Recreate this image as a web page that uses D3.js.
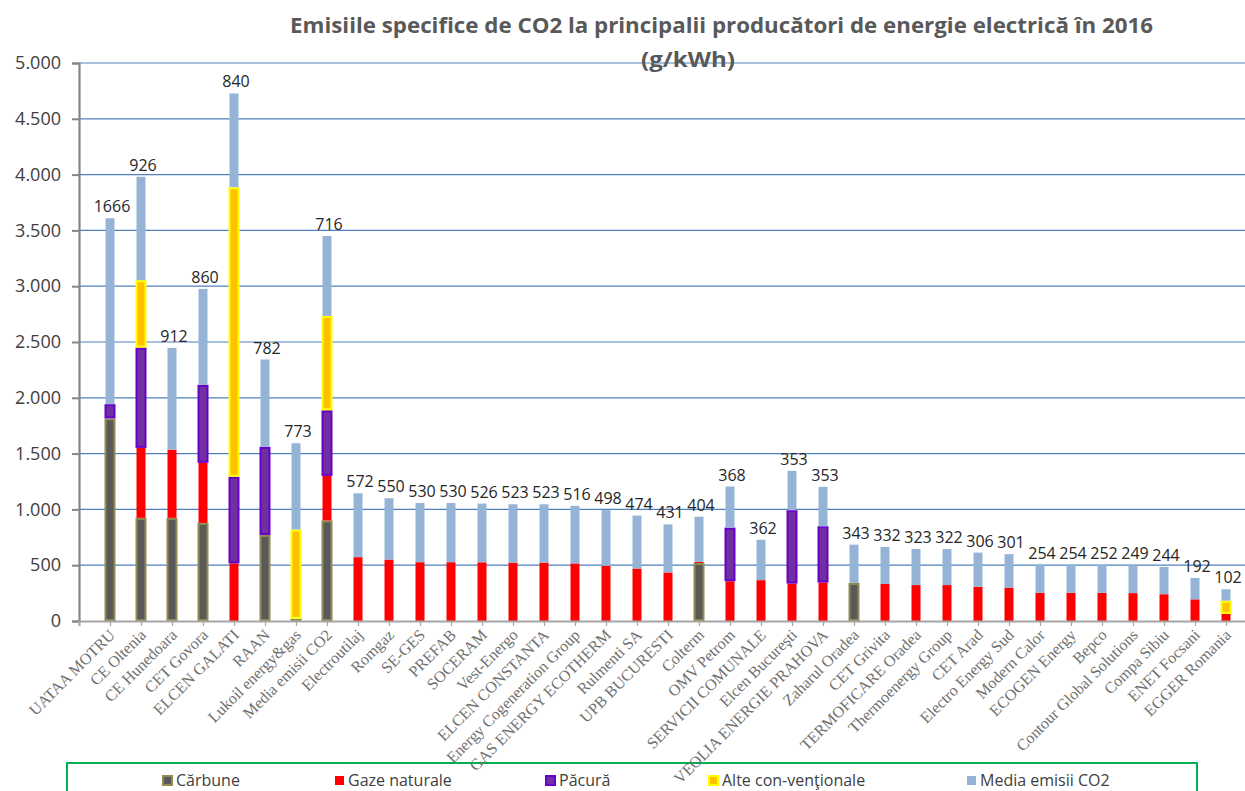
<!DOCTYPE html>
<html>
<head>
<meta charset="utf-8">
<script src="https://cdn.jsdelivr.net/npm/d3@7"></script>
<style>
  html, body { margin: 0; padding: 0; background: #ffffff; }
  svg { display: block; }
</style>
</head>
<body>
<svg id="chart" width="1245" height="791"></svg>
<script>
const categories = ["UATAA MOTRU","CE Oltenia","CE Hunedoara","CET Govora","ELCEN GALATI","RAAN","Lukoil energy&gas","Media emisii CO2","Electroutilaj","Romgaz","SE-GES","PREFAB","SOCERAM","Vest-Energo","ELCEN CONSTANTA","Energy Cogeneration Group","GAS ENERGY ECOTHERM","Rulmenti SA","UPB BUCURESTI","Colterm","OMV Petrom","SERVICII COMUNALE","Elcen Bucureşti","VEOLIA ENERGIE PRAHOVA","Zaharul Oradea","CET Grivita","TERMOFICARE Oradea","Thermoenergy Group","CET Arad","Electro Energy Sud","Modern Calor","ECOGEN Energy","Bepco","Contour Global Solutions","Compa Sibiu","ENET Focsani","EGGER Romania"];
const carbune = [1816,924,924,879,0,771,20,901,0,0,0,0,0,0,0,0,0,0,0,520,0,0,0,0,341,0,0,0,0,0,0,0,0,0,0,0,0];
const gaze    = [0,627,611,538,516,0,0,399,572,550,527,527,526,523,523,516,495,470,435,10,356,366,335,344,0,332,322,322,307,298,252,252,252,250,240,194,63];
const pacura  = [127,899,0,699,777,790,0,588,0,0,0,0,0,0,0,0,0,0,0,0,481,0,658,505,0,0,0,0,0,0,0,0,0,0,0,0,0];
const alte    = [0,604,0,0,2594,0,800,846,0,0,0,0,0,0,0,0,0,0,0,0,0,0,0,0,0,0,0,0,0,0,0,0,0,0,0,0,119];
const media   = [1666,926,912,860,840,782,773,716,572,550,530,530,526,523,523,516,498,474,431,404,368,362,353,353,343,332,323,322,306,301,254,254,252,249,244,192,102];
const yTickValues = [0,500,1000,1500,2000,2500,3000,3500,4000,4500,5000];
const seriesNames = ["Cărbune","Gaze naturale","Păcură","Alte con-venţionale","Media emisii CO2"];
const titleLines = ["Emisiile specifice de CO2 la principalii  producători de energie electrică în 2016","(g/kWh)"];

const keys = ["carbune","gaze","pacura","alte","media"];
const styles = {
  carbune: {fill:"#595959", stroke:"#948a54", sw:2},
  gaze:    {fill:"#ff0000", stroke:"none", sw:0},
  pacura:  {fill:"#7030a0", stroke:"#6600cc", sw:2},
  alte:    {fill:"#ffc000", stroke:"#ffff00", sw:2},
  media:   {fill:"#95b3d7", stroke:"none", sw:0}
};
const table = categories.map((c,i)=>({cat:c, idx:i, carbune:carbune[i], gaze:gaze[i], pacura:pacura[i], alte:alte[i], media:media[i]}));

const svg = d3.select("#chart");
const x0 = 79, step = 31;
const x = d3.scaleLinear().domain([0, categories.length + 1]).range([x0, x0 + step*(categories.length + 1)]);
const y = d3.scaleLinear().domain([0, 5000]).range([621, 63]);
const fmt = d3.formatLocale({decimal:",", thousands:".", grouping:[3], currency:["",""]}).format(",");

// gridlines
svg.append("g").selectAll("line").data(yTickValues.filter(v=>v>0)).join("line")
  .attr("x1", x0).attr("x2", 1245).attr("y1", d=>y(d)).attr("y2", d=>y(d))
  .attr("stroke", "#4f81bd").attr("stroke-width", 1.2);

// title
svg.append("text").attr("x", 721.5).attr("y", 33).attr("text-anchor","middle")
  .attr("font-family","Open Sans").attr("font-weight","bold").attr("font-size",21)
  .attr("fill","#595959").attr("textLength",863).attr("lengthAdjust","spacingAndGlyphs")
  .text(titleLines[0]);
svg.append("text").attr("x", 688).attr("y", 67).attr("text-anchor","middle")
  .attr("font-family","Open Sans").attr("font-weight","bold").attr("font-size",21)
  .attr("fill","#595959").attr("textLength",94).attr("lengthAdjust","spacingAndGlyphs")
  .text(titleLines[1]);

// legend
const lg = svg.append("g");
lg.append("rect").attr("x",67).attr("y",763).attr("width",1130).attr("height",40)
  .attr("fill","white").attr("stroke","#00b050").attr("stroke-width",2);
const legendX = [162, 334, 545, 708, 966];
seriesNames.forEach((n,i)=>{
  const st = styles[keys[i]];
  lg.append("rect").attr("x", legendX[i] + 1).attr("y", 776).attr("width", 9).attr("height", 9)
    .attr("fill", st.fill).attr("stroke", st.stroke).attr("stroke-width", st.sw);
  lg.append("text").attr("x", legendX[i] + 14).attr("y", 786)
    .attr("font-family","Open Sans").attr("font-size",16).attr("fill","#404040").text(n);
});

// bars
const stack = d3.stack().keys(keys)(table);
const bw = 9;
const bars = svg.append("g");
stack.forEach(layer=>{
  const st = styles[layer.key];
  bars.append("g").selectAll("rect").data(layer.filter(d=>d[1]-d[0]>0)).join("rect")
    .attr("x", d=>x(d.data.idx+1) - bw/2)
    .attr("width", bw)
    .attr("y", d=>y(d[1]) + (st.sw? st.sw/2 : 0))
    .attr("height", d=>Math.max(0, y(d[0]) - y(d[1]) - (st.sw? st.sw : 0)))
    .attr("fill", st.fill).attr("stroke", st.stroke).attr("stroke-width", st.sw);
});

// axes
const yAxis = svg.append("g").attr("transform",`translate(${x0},0)`)
  .call(d3.axisLeft(y).tickValues(yTickValues).tickSize(7).tickPadding(11).tickFormat(fmt));
yAxis.select(".domain").attr("stroke","#868686").attr("stroke-width",2.2);
yAxis.selectAll(".tick line").attr("stroke","#868686").attr("stroke-width",2);
yAxis.selectAll(".tick text").attr("font-family","Open Sans").attr("font-size",18).attr("fill","#404040");

const xAxis = svg.append("g").attr("transform",`translate(0,${y(0)})`)
  .call(d3.axisBottom(x).tickValues(d3.range(0, categories.length+1)).tickSize(5).tickFormat(""));
xAxis.select(".domain").attr("stroke","#a6a6a6").attr("stroke-width",2);
xAxis.selectAll(".tick line").attr("stroke","#a6a6a6").attr("stroke-width",1.2);

// category labels
svg.append("g").selectAll("text").data(table).join("text")
  .attr("transform", d=>`translate(${x(d.idx+1)+2},${632}) rotate(-45)`)
  .attr("text-anchor","end").attr("dy","0.35em")
  .attr("font-family","Liberation Serif").attr("font-size",16).attr("fill","#6f6f6f")
  .text(d=>d.cat);

// data labels
svg.append("g").selectAll("text").data(table).join("text")
  .attr("x", d=>x(d.idx+1) + 2)
  .attr("y", d=>y(d.carbune+d.gaze+d.pacura+d.alte+d.media) - 6)
  .attr("text-anchor","middle")
  .attr("font-family","Open Sans").attr("font-size",16).attr("fill","#262626")
  .text(d=>d.media);
</script>
</body>
</html>
